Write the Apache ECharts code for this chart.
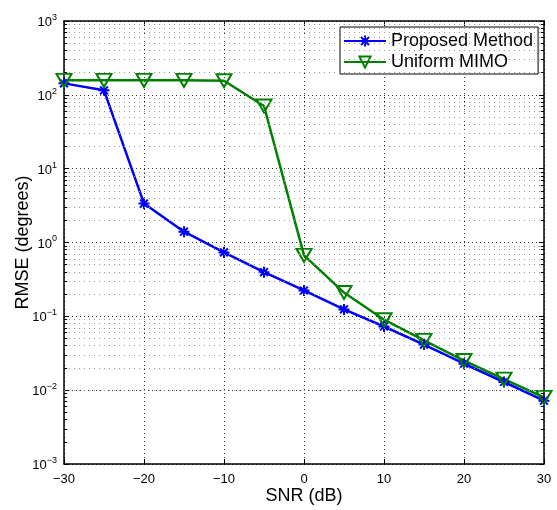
<!DOCTYPE html>
<html>
<head>
<meta charset="utf-8">
<script src="https://cdn.jsdelivr.net/npm/echarts@6/dist/echarts.min.js"></script>
<style>html,body{margin:0;padding:0;background:#fff;}#c{width:557px;height:510px;}</style>
</head>
<body>
<div id="c"></div>
<script>
var snr = [-30, -25, -20, -15, -10, -5, 0, 5, 10, 15, 20, 25, 30];
var proposed = [143, 115, 3.37, 1.40, 0.734, 0.396, 0.224, 0.124, 0.0728, 0.0414, 0.0228, 0.0129, 0.0072];
var uniform = [157, 157, 157, 157, 155, 70.5, 0.67, 0.21, 0.090, 0.0472, 0.0252, 0.0141, 0.0080];
var xTicks = [-30, -20, -10, 0, 10, 20, 30];
var decades = [0.001, 0.01, 0.1, 1, 10, 100];
var minorMult = [2, 3, 4, 5, 6, 7, 8, 9];

var minorVals = [];
decades.forEach(function (d) { minorMult.forEach(function (m) { minorVals.push(+(d * m).toPrecision(3)); }); });

var minorGrid = minorVals.map(function (v) { return { yAxis: v }; });
var minorTicks = [];
minorVals.forEach(function (v) {
  minorTicks.push([{ coord: [-30, v] }, { coord: [-29.6, v] }]);
  minorTicks.push([{ coord: [30, v] }, { coord: [29.6, v] }]);
});

var font = 'Liberation Sans, Arial, Helvetica, sans-serif';
var blue = '#0000ff', green = '#008000';
var star = 'path://M0,-10L0,10M-10,0L10,0M-7.07,-7.07L7.07,7.07M-7.07,7.07L7.07,-7.07';
var tri = 'path://M-10,-8.5L10,-8.5L0,8.5Z';

function xFmt(v) { return v < 0 ? '\u2212' + Math.abs(v) : String(v); }
function yFmt(v) {
  var e = Math.round(Math.log10(v));
  return '{b|10}{e|' + (e < 0 ? '\u2212' + Math.abs(e) : e) + '}';
}

var chart = echarts.init(document.getElementById('c'), null, { renderer: 'canvas' });
chart.setOption({
  animation: false,
  backgroundColor: '#fff',
  textStyle: { fontFamily: font },
  grid: { left: 64, right: 13, top: 21, bottom: 41, containLabel: false },
  legend: {
    data: ['Proposed Method', 'Uniform MIMO'],
    orient: 'vertical',
    left: 340, top: 27,
    backgroundColor: '#fff', borderColor: '#000', borderWidth: 1,
    padding: [5, 5, 3, 3],
    itemWidth: 42, itemHeight: 14, itemGap: 3,
    textStyle: { fontSize: 18, color: '#000', fontFamily: font }
  },
  xAxis: [{
    type: 'value', min: -30, max: 30, interval: 10,
    axisLine: { show: true, onZero: false, lineStyle: { color: '#000', width: 1.5 } },
    axisTick: { show: true, inside: true, length: 5, lineStyle: { color: '#000' } },
    axisLabel: { formatter: xFmt, fontSize: 13, color: '#000', margin: 9, fontFamily: font },
    splitLine: { show: true, lineStyle: { color: '#333', type: [1, 3], width: 1 } },
    name: 'SNR (dB)', nameLocation: 'middle', nameGap: 23, nameMoveOverlap: false,
    nameTextStyle: { fontSize: 18, color: '#000', fontFamily: font }
  }, {
    type: 'value', min: -30, max: 30, interval: 10, position: 'top',
    axisLine: { show: true, onZero: false, lineStyle: { color: '#000', width: 1.5 } },
    axisTick: { show: true, inside: true, length: 5, lineStyle: { color: '#000' } },
    axisLabel: { show: false }, splitLine: { show: false }
  }],
  yAxis: [{
    type: 'log', logBase: 10, min: 0.001, max: 1000,
    axisLine: { show: true, onZero: false, lineStyle: { color: '#000', width: 1.5 } },
    axisTick: { show: true, inside: true, length: 5, lineStyle: { color: '#000' } },
    axisLabel: {
      formatter: yFmt, margin: 7, color: '#000',
      rich: {
        b: { fontSize: 13, fontFamily: font, color: '#000', verticalAlign: 'bottom', lineHeight: 16 },
        e: { fontSize: 9, fontFamily: font, color: '#000', verticalAlign: 'top', lineHeight: 16, padding: [0, 0, 0, 0] }
      }
    },
    splitLine: { show: true, lineStyle: { color: '#333', type: [1, 3], width: 1 } },
    name: 'RMSE (degrees)', nameLocation: 'middle', nameGap: 32, nameRotate: 90, nameMoveOverlap: false,
    nameTextStyle: { fontSize: 18, color: '#000', fontFamily: font }
  }, {
    type: 'log', logBase: 10, min: 0.001, max: 1000, position: 'right',
    axisLine: { show: true, onZero: false, lineStyle: { color: '#000', width: 1.5 } },
    axisTick: { show: true, inside: true, length: 5, lineStyle: { color: '#000' } },
    axisLabel: { show: false }, splitLine: { show: false }
  }],
  series: [{
    name: 'grid', type: 'line', data: [], silent: true, z: 1,
    markLine: {
      silent: true, symbol: ['none', 'none'], label: { show: false },
      lineStyle: { color: '#999', type: [1, 4], width: 1 },
      data: minorGrid
    }
  }, {
    name: 'ticks', type: 'line', data: [], silent: true, z: 1,
    markLine: {
      silent: true, symbol: ['none', 'none'], label: { show: false },
      lineStyle: { color: '#000', type: 'solid', width: 1 },
      data: minorTicks
    }
  }, {
    name: 'Proposed Method', type: 'line', z: 3,
    data: snr.map(function (x, i) { return [x, proposed[i]]; }),
    symbol: star, symbolSize: 11,
    lineStyle: { color: blue, width: 2.5 },
    itemStyle: { color: blue, borderColor: blue, borderWidth: 2 }
  }, {
    name: 'Uniform MIMO', type: 'line', z: 3,
    data: snr.map(function (x, i) { return [x, uniform[i]]; }),
    symbol: tri, symbolSize: [15, 13],
    lineStyle: { color: green, width: 2.5 },
    itemStyle: { color: 'rgba(255,255,255,0)', borderColor: green, borderWidth: 2 }
  }]
});
</script>
</body>
</html>
